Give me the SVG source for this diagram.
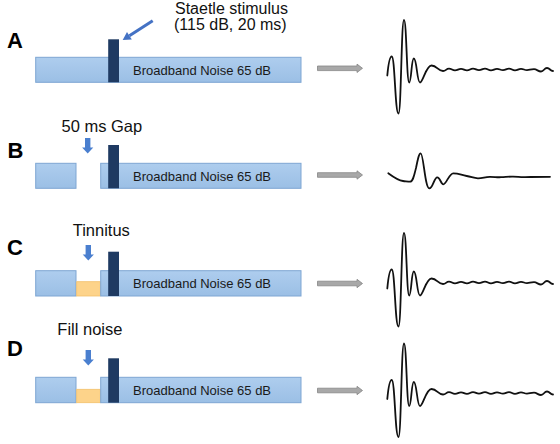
<svg xmlns="http://www.w3.org/2000/svg" xmlns:xlink="http://www.w3.org/1999/xlink" width="560" height="444" viewBox="0 0 560 444">
<style>
.lbl{font-family:"Liberation Sans",Arial,sans-serif;font-size:22px;font-weight:bold;fill:#000}
.ann{font-family:"Liberation Sans",Arial,sans-serif;font-size:16.5px;fill:#111}
.bt{font-family:"Liberation Sans",Arial,sans-serif;font-size:13px;fill:#1a1a1a}
.bar{fill:url(#barG);stroke:#7ea6d3;stroke-width:1}
.stim{fill:#1f3a62}
.fill{fill:#fdd38a;stroke:#f2c06a;stroke-width:0.8}
.wave{fill:none;stroke:#111;stroke-width:1.8;stroke-linejoin:round;stroke-linecap:round}
.garrow{fill:#a8a8a8;stroke:#858585;stroke-width:0.8}
.barrow{fill:#4a7fcf}
</style>
<defs>
<linearGradient id="barG" x1="0" y1="0" x2="0" y2="1">
<stop offset="0" stop-color="#aecdee"/>
<stop offset="1" stop-color="#9bbfe5"/>
</linearGradient>
<path id="downArrow" class="barrow" d="M-2.7,0 H2.7 V9.5 H5.6 L0,15.5 L-5.6,9.5 H-2.7 Z"/>
<path id="grayArrow" class="garrow" d="M317.5,-2.3 H357 V-4.2 L362.5,0 L357,4.2 V2.3 H317.5 Z"/>
<path id="abr" class="wave" d="M387.3,6 C388.5,-7 390,-13 391.7,-13 C395,-13 395,44 398.5,44 C401.2,44 401.3,-49.5 404,-49.5 C406.6,-49.5 406.6,13 409.2,13 C411.4,13 411.4,-11 413.8,-11 C416.9,-11 416.9,13 420,13 C423,13 426,-4 431.5,-4 C437,-4 438,1.5 443,1.5 C446,1.5 446,-0.8 449,-0.8 C452,-0.8 452,0.8 455,0.8 C458,0.8 458,-0.6 461,-0.6 C464,-0.6 464,0.8 467,0.8 C470,0.8 470,-0.8 473,-0.8 C476,-0.8 476,0.6 479,0.6 C482,0.6 482,-0.8 485,-0.8 C488,-0.8 488,0.8 491,0.8 C494,0.8 494,-0.6 497,-0.6 C500,-0.6 500,0.6 503,0.6 C506,0.6 506,-0.8 509,-0.8 C512,-0.8 512,0.8 515,0.8 C518,0.8 518,-0.6 521,-0.6 C524,-0.6 524,0.6 527,0.6 C530,0.6 530,-0.3 534,-0.3 C537,-0.3 538,2 541,2 C544,2 544,-1.5 547,-1.5 C550,-1.5 550,1.5 553,1.5"/>
</defs>
<rect width="560" height="444" fill="#fff"/>

<g id="rowA">
<text class="lbl" x="7" y="48">A</text>
<rect class="bar" x="35.7" y="57.3" width="265.3" height="25"/>
<rect class="stim" x="108.2" y="39.3" width="10.8" height="43"/>
<text class="bt" x="133" y="75">Broadband Noise 65 dB</text>
<text class="ann" style="font-size:16px"><tspan x="175" y="14">Staetle stimulus</tspan><tspan x="174" y="29.5">(115 dB, 20 ms)</tspan></text>
<use xlink:href="#abr" transform="translate(0,69.5)"/>
</g>

<g id="rowB">
<text class="lbl" x="7.5" y="158.3">B</text>
<rect class="bar" x="35.7" y="163.3" width="40.3" height="25"/>
<rect class="bar" x="100.7" y="163.3" width="200.3" height="25"/>
<rect class="stim" x="108.2" y="145" width="10.8" height="43.3"/>
<text class="bt" x="133" y="180.5">Broadband Noise 65 dB</text>
<text class="ann" x="61.5" y="132">50 ms Gap</text>
<path class="wave" d="M388.3,173.3 C394,177.5 398,180.5 403,181 C406,181.3 408,181.7 410,181.7 C413,181.7 414,176 416,168 C418,158 419,153.3 420.7,153.3 C423.5,153.3 425,188.3 429.3,188.3 C433,188.3 434,177.3 437.3,177.3 C440,177.3 441,184.3 443.3,184.3 C446.5,184.3 449,173.3 453.3,173.3 C459,173.3 461,175 466.7,176 C472,177 474,178.3 478,178.3 C483,178.3 485,176.7 490,176.8 C495,176.9 497,177.4 501,177.2 C506,177 508,176.5 513,176.6 C518,176.7 520,177.2 525,177.1 C532,177 540,176.8 550,176.8"/>
</g>

<g id="rowC">
<text class="lbl" x="7" y="255">C</text>
<rect class="bar" x="35.7" y="270.7" width="40.3" height="25.3"/>
<rect class="fill" x="76.7" y="281.7" width="23.6" height="14.3"/>
<rect class="bar" x="100.7" y="270.7" width="200.3" height="25.3"/>
<rect class="stim" x="108.2" y="251.7" width="10.8" height="44.3"/>
<text class="bt" x="133" y="288">Broadband Noise 65 dB</text>
<text class="ann" x="72.7" y="236">Tinnitus</text>
<use xlink:href="#abr" transform="translate(0,282.5)"/>
</g>

<g id="rowD">
<text class="lbl" x="7" y="356">D</text>
<rect class="bar" x="35.7" y="377.3" width="40.3" height="25.4"/>
<rect class="fill" x="76.7" y="389.3" width="23.6" height="13.4"/>
<rect class="bar" x="100.7" y="377.3" width="200.3" height="25.4"/>
<rect class="stim" x="108.2" y="358.3" width="10.8" height="44.4"/>
<text class="bt" x="133" y="394.5">Broadband Noise 65 dB</text>
<text class="ann" x="57.3" y="335">Fill noise</text>
<use xlink:href="#abr" transform="translate(0,393)"/>
</g>

<g id="connectors">
<path d="M152.7,20.7 L129.4,35.7" stroke="#4472c4" stroke-width="3" fill="none"/>
<polygon points="122.7,40 131.8,39.5 127,31.9" fill="#4472c4"/>
<use xlink:href="#downArrow" transform="translate(87.7,138)"/>
<use xlink:href="#downArrow" transform="translate(88.3,245)"/>
<use xlink:href="#downArrow" transform="translate(88.3,350)"/>
<use xlink:href="#grayArrow" transform="translate(0,68.3)"/>
<use xlink:href="#grayArrow" transform="translate(0,175)"/>
<use xlink:href="#grayArrow" transform="translate(0,283.5)"/>
<use xlink:href="#grayArrow" transform="translate(0,390.5)"/>
</g>
</svg>
